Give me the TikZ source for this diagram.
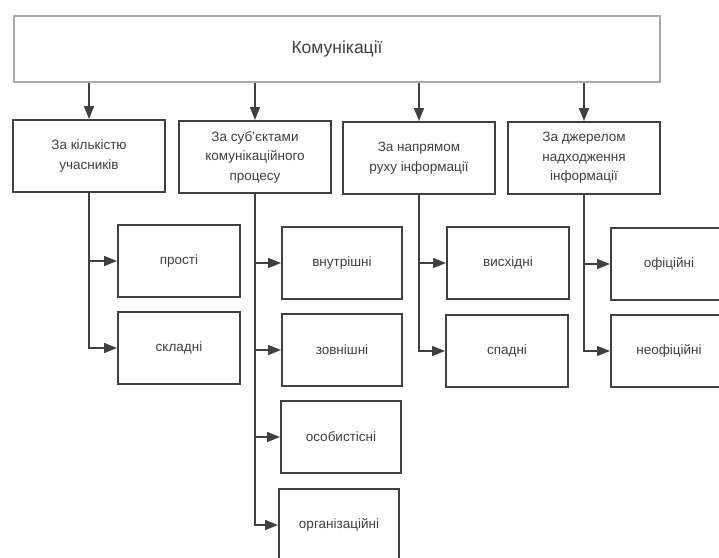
\documentclass[tikz,border=0pt]{standalone}
\usepackage{fontspec}
\setmainfont{Liberation Sans}
\usetikzlibrary{arrows.meta}
\definecolor{ink}{HTML}{404040}
\definecolor{frame}{HTML}{AAAAAA}
\tikzset{
  box/.style={draw=ink, line width=2pt, rectangle, inner sep=2pt, align=center, text=ink},
  topbox/.style={draw=frame, line width=2pt, rectangle, align=center, text=ink,
    minimum width=646pt, minimum height=66pt, font=\fontsize{17.5}{20}\selectfont},
  midbox/.style={box, minimum width=152pt, minimum height=72pt, font=\fontsize{13.5}{19.5}\selectfont},
  leafbox/.style={box, minimum width=120pt, minimum height=72pt, font=\fontsize{13.5}{16}\selectfont},
  link/.style={draw=ink, line width=1.6pt, -{Triangle[length=13pt,width=10pt]}},
}
\begin{document}
\begin{tikzpicture}[x=1pt,y=-1pt]
\useasboundingbox (0,0) rectangle (719,557);
\clip (0,0) rectangle (719,557);
\fill[white] (0,0) rectangle (719,557);

% root
\node[topbox] (root) at (337,49) {Комунікації};

% classification criteria
\node[midbox] (m1) at (89,156) {За кількістю\\учасників};
\node[midbox] (m2) at (255,157) {За суб’єктами\\комунікаційного\\процесу};
\node[midbox] (m3) at (419,158) {За напрямом\\руху інформації};
\node[midbox] (m4) at (584,158) {За джерелом\\надходження\\інформації};

% types
\node[leafbox, minimum width=122pt] (a1) at (179,261) {прості};
\node[leafbox, minimum width=122pt] (a2) at (179,348) {складні};

\node[leafbox] (b1) at (342,263) {внутрішні};
\node[leafbox] (b2) at (342,350) {зовнішні};
\node[leafbox] (b3) at (341,437) {особистісні};
\node[leafbox] (b4) at (339,525) {організаційні};

\node[leafbox, minimum width=122pt] (c1) at (508,263) {висхідні};
\node[leafbox, minimum width=122pt] (c2) at (507,351) {спадні};

\node[leafbox, minimum width=116pt] (d1) at (669,264) {офіційні};
\node[leafbox, minimum width=116pt] (d2) at (669,351) {неофіційні};

% root to criteria
\foreach \m in {m1,m2,m3,m4}
  \draw[link] (root.south -| \m.north) -- (\m.north);

% criteria to types
\draw[link] (m1.south) |- (a1.west);
\draw[link] (m1.south) |- (a2.west);
\draw[link] (m2.south) |- (b1.west);
\draw[link] (m2.south) |- (b2.west);
\draw[link] (m2.south) |- (b3.west);
\draw[link] (m2.south) |- (b4.west);
\draw[link] (m3.south) |- (c1.west);
\draw[link] (m3.south) |- (c2.west);
\draw[link] (m4.south) |- (d1.west);
\draw[link] (m4.south) |- (d2.west);
\end{tikzpicture}
\end{document}
